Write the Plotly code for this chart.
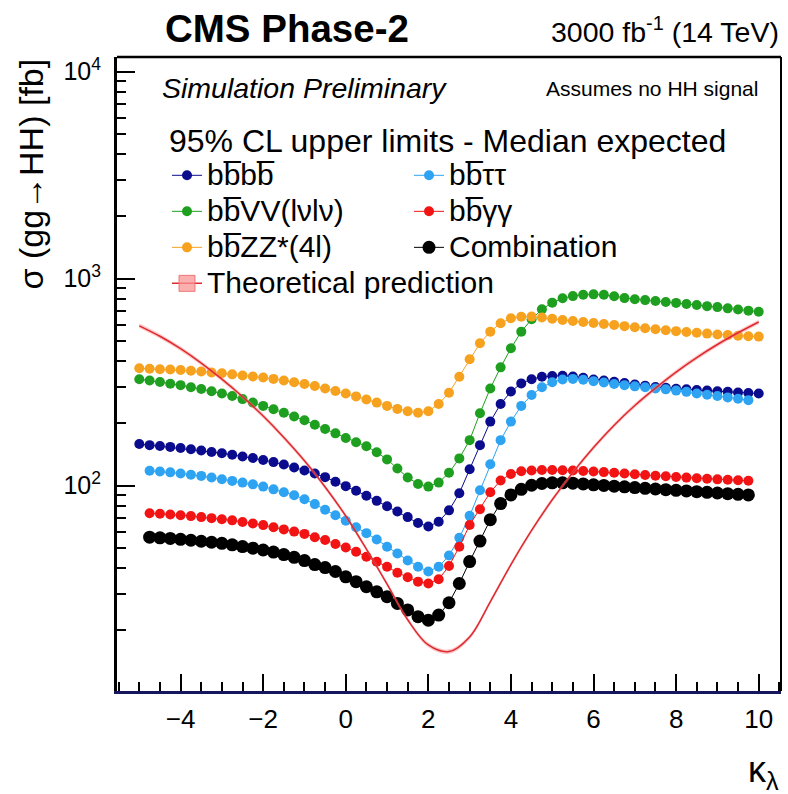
import plotly.graph_objects as go

# ---------------- data ----------------
KAPPA = [-5.0, -4.75, -4.5, -4.25, -4.0, -3.75, -3.5, -3.25, -3.0, -2.75,
         -2.5, -2.25, -2.0, -1.75, -1.5, -1.25, -1.0, -0.75, -0.5, -0.25,
         0.0, 0.25, 0.5, 0.75, 1.0, 1.25, 1.5, 1.75, 2.0, 2.25,
         2.5, 2.75, 3.0, 3.25, 3.5, 3.75, 4.0, 4.25, 4.5, 4.75,
         5.0, 5.25, 5.5, 5.75, 6.0, 6.25, 6.5, 6.75, 7.0, 7.25,
         7.5, 7.75, 8.0, 8.25, 8.5, 8.75, 9.0, 9.25, 9.5, 9.75, 10.0]

BBBB = [159, 157, 155.5, 154, 152, 150, 148, 145.5, 143.5, 141,
        138.5, 136, 133, 130, 126.5, 122.5, 118.5, 114.5, 110, 104.5,
        99.5, 94.5, 89.5, 84.5, 79.5, 75, 70.5, 66, 63.5, 67,
        76, 92, 120, 157, 204, 248, 285, 312, 327, 336,
        339, 340, 337, 332, 326, 322, 318, 313, 308, 304,
        300, 297, 294, 292, 290, 288, 286, 284, 282, 280.5, 279]

BBTAUTAU = [None, 118, 117, 116, 114.5, 113, 111.5, 109.5, 107.5, 105.5,
            103.5, 101.5, 99, 96, 93, 90, 86, 81.5, 76.5, 72,
            67.7, 63, 59, 55, 50.7, 47, 43.5, 40.6, 38.5, 40.6,
            46, 56, 71.5, 95, 127, 166, 204, 243, 274, 299,
            316, 326, 328, 325, 320, 315, 310, 306, 302, 299,
            295, 292, 288, 284, 279, 275, 271, 267, 263, 259, None]

BBVV = [327, 322, 317, 311, 306, 299, 293, 286, 279, 271,
        262, 252, 243, 234, 225, 216, 207, 197, 188, 179,
        170, 162, 155, 145, 134, 121, 109.5, 102, 99, 103.5,
        115.5, 135.5, 166, 224, 295, 373, 461, 555, 637, 711,
        766, 804, 824, 837, 840, 836, 822, 806, 796, 788,
        781, 772, 764, 755, 746, 737, 729, 719, 710, 701, 693]

BBGG = [None, 73.6, 73.2, 72.6, 72, 71.3, 70.5, 69.7, 68.9, 68,
        66.8, 65.7, 64.5, 63, 61.5, 60, 58.5, 56.4, 54.7, 52.3,
        50.3, 48, 45.4, 42.9, 40.6, 38, 36.1, 34.4, 33.7, 35.3,
        40.9, 50.7, 64.6, 77, 93, 106, 114, 117.5, 118.5, 119,
        119, 118.8, 118.5, 117.8, 117, 116.3, 115.5, 114.6, 113.6, 112.6,
        111.8, 111, 110.2, 109.4, 108.6, 108, 107.3, 106.8, 106.2, 105.7, None]

BBZZ = [369, 367, 365.5, 364, 362, 359, 356, 352.5, 349, 345,
        341, 337, 333, 328, 322, 316, 310, 303, 295, 287,
        279, 270, 261, 252, 243, 235, 229, 225, 229, 248,
        281, 336, 408, 488, 555, 609, 644, 655, 656, 650,
        640, 632, 625, 618, 611, 604, 597, 590, 583, 576,
        570, 564, 558, 553, 548, 543, 538, 534, 530, 527, 525]

COMBINATION = [None, 56.4, 56, 55.6, 55.1, 54.5, 53.9, 53.3, 52.7, 51.8,
               50.8, 49.9, 48.9, 47.8, 46.5, 45.1, 43.5, 41.6, 40.2, 38.5,
               36.3, 34.4, 32.5, 30.7, 29.1, 27.0, 25.1, 23.3, 22.4, 23.7,
               27.2, 33.7, 43, 54, 68.5, 82, 90.2, 96, 100.5, 102.5,
               103.3, 103.3, 102.8, 102, 101, 100.3, 99.5, 98.7, 97.9, 97.1,
               96.4, 95.7, 95, 94.3, 93.6, 92.9, 92.2, 91.5, 90.8, 90.2, None]

THEORY_KAPPA = [-5.0, -4.5, -4.0, -3.5, -3.0, -2.5, -2.0, -1.5, -1.0, -0.5,
                0.0, 0.5, 1.0, 1.5, 2.0, 2.5, 3.0, 3.5, 4.0, 4.5,
                5.0, 5.5, 6.0, 6.5, 7.0, 7.5, 8.0, 8.5, 9.0, 9.5, 10.0]
THEORY_XS = [592, 527, 459, 391, 327, 269, 217, 171, 132, 98.6,
             71.4, 49.4, 33.5, 22.5, 17.0, 15.8, 18.6, 27.5, 41.6, 60.8,
             85.5, 116, 153, 196, 244, 296, 354, 416, 481, 548, 618]
THEORY_REL_UNC = 0.025

SERIES_NAMES = ["bb\u0305bb\u0305", "bb\u0305\u03c4\u03c4", "bb\u0305VV(l\u03bdl\u03bd)",
                "bb\u0305\u03b3\u03b3", "bb\u0305ZZ*(4l)", "Combination"]
THEORY_NAME = "Theoretical prediction"
LEGEND_HEADER = "95% CL upper limits - Median expected"

Y_TICKS = [100, 1000, 10000]
Y_TICK_TEXT = ["10<sup>2</sup>", "10<sup>3</sup>", "10<sup>4</sup>"]
Y_MINOR = [20, 30, 40, 50, 60, 70, 80, 90, 200, 300, 400, 500, 600, 700, 800, 900,
           2000, 3000, 4000, 5000, 6000, 7000, 8000, 9000]

# ---------------- styling ----------------
FONT = "Liberation Sans, Arial, Helvetica, sans-serif"
COLORS = ["#0b0b8e", "#2ea3f2", "#1f9f1f", "#f21414", "#f6a21f", "#000000"]
SIZES = [10, 10, 10, 10, 10, 13]
THEORY_COLOR = "#dc2a30"

L, R, T, B = 117, 7, 57, 103
W, H = 788, 794
PW, PH = W - L - R, H - T - B


def px(x):
    return (x - L) / PW


def py(y):
    return (H - B - y) / PH


def big(txt, size):
    return '<span style="font-size:%dpx">%s</span>' % (size, txt)


fig = go.Figure()
for name, vals, col, sz in zip(SERIES_NAMES,
                               [BBBB, BBTAUTAU, BBVV, BBGG, BBZZ, COMBINATION],
                               COLORS, SIZES):
    fig.add_trace(go.Scatter(x=KAPPA, y=vals, name=big(name, 30), mode="lines+markers",
                             line=dict(color=col, width=1),
                             marker=dict(color=col, size=sz, line=dict(width=0)),
                             connectgaps=False))

upper = [v * (1 + THEORY_REL_UNC) for v in THEORY_XS]
lower = [v * (1 - THEORY_REL_UNC) for v in THEORY_XS]
fig.add_trace(go.Scatter(x=THEORY_KAPPA, y=lower, mode="lines",
                         line=dict(width=0, shape="spline", color="rgba(0,0,0,0)"),
                         showlegend=False, hoverinfo="skip"))
fig.add_trace(go.Scatter(x=THEORY_KAPPA, y=upper, mode="lines", fill="tonexty",
                         fillcolor="rgba(255,130,130,0.45)",
                         line=dict(width=0, shape="spline", color="rgba(0,0,0,0)"),
                         showlegend=False, hoverinfo="skip"))
fig.add_trace(go.Scatter(x=THEORY_KAPPA, y=THEORY_XS, mode="lines",
                         line=dict(color=THEORY_COLOR, width=1.5, shape="spline"),
                         showlegend=False))
# legend-only entry for the theory band (no data drawn)
fig.add_trace(go.Scatter(x=[None], y=[None], name=big(THEORY_NAME, 30),
                         mode="lines+markers",
                         line=dict(color=THEORY_COLOR, width=1.5),
                         marker=dict(symbol="square", size=16, color="rgba(250,150,150,0.75)",
                                     line=dict(color="rgba(240,110,110,0.9)", width=1))))

fig.update_layout(
    width=W, height=H,
    margin=dict(l=L, r=R, t=T, b=B),
    paper_bgcolor="white", plot_bgcolor="white",
    font=dict(family=FONT, color="black"),
    showlegend=True,
    legend=dict(x=px(167), y=py(118.5), xanchor="left", yanchor="top",
                orientation="h", entrywidth=197, entrywidthmode="pixels",
                bgcolor="rgba(0,0,0,0)", borderwidth=0,
                font=dict(family=FONT, size=25.4, color="black"),
                title=dict(text=big(LEGEND_HEADER, 32), side="top",
                           font=dict(family=FONT, size=26, color="black")),
                traceorder="normal", itemwidth=30),
    xaxis=dict(range=[-5.54, 10.54], tick0=0, dtick=2, ticks="inside", ticklen=17,
               tickwidth=1.5, tickcolor="black", showline=True, linecolor="#16165e",
               linewidth=3, showgrid=False, zeroline=False,
               tickfont=dict(family=FONT, size=26, color="black"), ticklabelstandoff=3,
               minor=dict(tick0=0, dtick=0.5, ticks="inside", ticklen=9, tickwidth=1.5,
                          tickcolor="black", showgrid=False)),
    yaxis=dict(type="log", range=[1.0082, 4.071], tickmode="array", tickvals=Y_TICKS,
               ticktext=Y_TICK_TEXT, ticks="inside", ticklen=18, tickwidth=1.5,
               tickcolor="black", showline=True, linecolor="black", linewidth=3,
               showgrid=False, zeroline=False,
               tickfont=dict(family=FONT, size=25, color="black"), ticklabelstandoff=8,
               minor=dict(tickmode="array", tickvals=Y_MINOR, ticks="inside", ticklen=9,
                          tickwidth=1.5, tickcolor="black", showgrid=False)),
    shapes=[
        dict(type="line", xref="paper", yref="paper", x0=0, x1=1, y0=1, y1=1,
             line=dict(color="black", width=2.5)),
        dict(type="line", xref="paper", yref="paper", x0=1, x1=1, y0=0, y1=1,
             line=dict(color="black", width=2)),
    ],
)

ann = [
    dict(text="<b>CMS Phase-2</b>", x=px(163), y=py(28), xanchor="left", yanchor="middle",
         font=dict(size=38.5)),
    dict(text="3000 fb<sup>-1</sup> (14 TeV)", x=px(781), y=py(30), xanchor="right",
         yanchor="middle", font=dict(size=28.5)),
    dict(text="<i>Simulation Preliminary</i>", x=px(160), y=py(88), xanchor="left",
         yanchor="middle", font=dict(size=28.5)),
    dict(text="Assumes no HH signal", x=px(760), y=py(88), xanchor="right",
         yanchor="middle", font=dict(size=21)),
    dict(text="\u03c3 (gg\u2192HH) [fb]", x=px(30), y=py(57), xanchor="center",
         yanchor="top", textangle=-90, font=dict(size=34)),
    dict(text="\u03ba<sub>\u03bb</sub>", x=px(781), y=py(772), xanchor="right",
         yanchor="middle", font=dict(size=36)),
]
for a in ann:
    a.update(xref="paper", yref="paper", showarrow=False)
    a["font"].update(family=FONT, color="black")
fig.update_layout(annotations=ann)

fig.write_html("out.html")
